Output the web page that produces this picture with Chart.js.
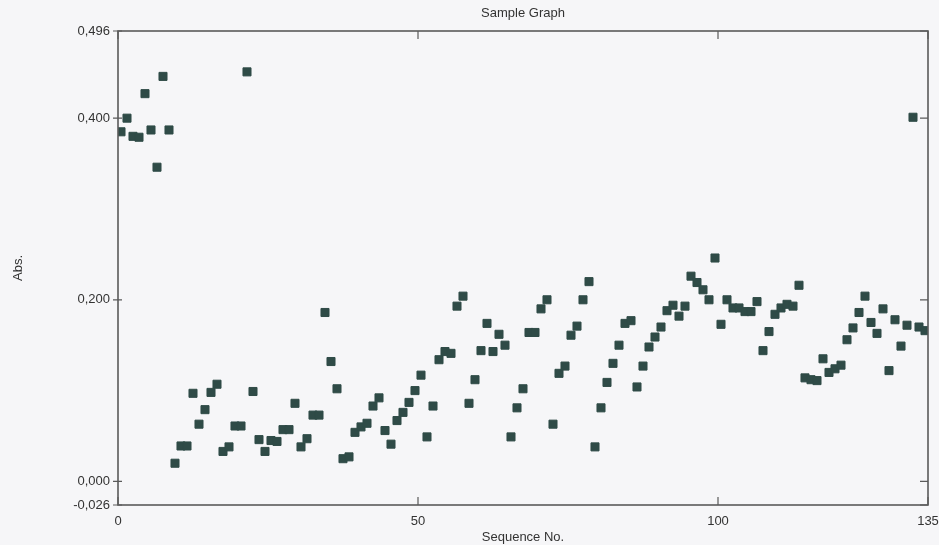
<!DOCTYPE html>
<html>
<head>
<meta charset="utf-8">
<title>Sample Graph</title>
<script src="https://cdn.jsdelivr.net/npm/chart.js@4.4.1/dist/chart.umd.min.js"></script>
<style>
  html, body { margin: 0; padding: 0; background: #f6f6f8; }
  #wrap { width: 939px; height: 545px; }
</style>
</head>
<body>
<div id="wrap"><canvas id="chart" width="939" height="545"></canvas></div>
<script>
// ── Data ──
// Abs. value for each sequence sample, in order (sample 0 .. 134)
const absValues = [
  0.385, 0.400, 0.380, 0.379, 0.427, 0.387, 0.346, 0.446, 0.387, 0.020,
  0.039, 0.039, 0.097, 0.063, 0.079, 0.098, 0.107, 0.033, 0.038, 0.061,
  0.061, 0.451, 0.099, 0.046, 0.033, 0.045, 0.044, 0.057, 0.057, 0.086,
  0.038, 0.047, 0.073, 0.073, 0.186, 0.132, 0.102, 0.025, 0.027, 0.054,
  0.060, 0.064, 0.083, 0.092, 0.056, 0.041, 0.067, 0.076, 0.087, 0.100,
  0.117, 0.049, 0.083, 0.134, 0.143, 0.141, 0.193, 0.204, 0.086, 0.112,
  0.144, 0.174, 0.143, 0.162, 0.150, 0.049, 0.081, 0.102, 0.164, 0.164,
  0.190, 0.200, 0.063, 0.119, 0.127, 0.161, 0.171, 0.200, 0.220, 0.038,
  0.081, 0.109, 0.130, 0.150, 0.174, 0.177, 0.104, 0.127, 0.148, 0.159,
  0.170, 0.188, 0.194, 0.182, 0.193, 0.226, 0.219, 0.211, 0.200, 0.246,
  0.173, 0.200, 0.191, 0.191, 0.187, 0.187, 0.198, 0.144, 0.165, 0.184,
  0.191, 0.195, 0.193, 0.216, 0.114, 0.112, 0.111, 0.135, 0.120, 0.124,
  0.128, 0.156, 0.169, 0.186, 0.204, 0.175, 0.163, 0.190, 0.122, 0.178,
  0.149, 0.172, 0.401, 0.170, 0.166
];

// tick values shown on the axes
const xTicks = [0, 50, 100, 135];
const yTicks = [-0.026, 0.000, 0.200, 0.400, 0.496];

const titleText = 'Sample Graph';
const xTitle = 'Sequence No.';
const yTitle = 'Abs.';

const FONT = '"Liberation Sans", Arial, sans-serif';
const MARK = '#2f4b47';
const FRAME = '#5a5a5a';

// each sample sits in the middle of its sequence slot
const points = absValues.map((v, i) => ({ x: i + 0.5, y: v }));

const fmtAbs = v => v.toFixed(3).replace('.', ',');

// frame, tick marks and the title drawn over the scales
const framePlugin = {
  id: 'frame',
  afterDraw(chart) {
    const { ctx, chartArea: a, scales } = chart;
    ctx.save();
    ctx.strokeStyle = FRAME;
    ctx.lineWidth = 1.6;
    ctx.strokeRect(a.left, a.top, a.right - a.left, a.bottom - a.top);

    ctx.lineWidth = 1.2;
    ctx.beginPath();
    yTicks.forEach(v => {
      const y = scales.y.getPixelForValue(v);
      ctx.moveTo(a.left - 5, y); ctx.lineTo(a.left + 4, y);
      ctx.moveTo(a.right - 8, y); ctx.lineTo(a.right, y);
    });
    xTicks.forEach(v => {
      const x = scales.x.getPixelForValue(v);
      ctx.moveTo(x, a.bottom); ctx.lineTo(x, a.bottom - 8);
      ctx.moveTo(x, a.top); ctx.lineTo(x, a.top + 8);
    });
    ctx.stroke();

    ctx.fillStyle = '#333';
    ctx.font = '13px ' + FONT;
    ctx.textAlign = 'center';
    ctx.textBaseline = 'middle';
    ctx.fillText(titleText, (a.left + a.right) / 2, 13);
    ctx.restore();
  }
};

new Chart(document.getElementById('chart'), {
  type: 'scatter',
  data: {
    datasets: [{
      label: yTitle,
      data: points,
      pointStyle: 'rect',
      pointRadius: 5.7,
      pointHoverRadius: 5.7,
      backgroundColor: MARK,
      borderColor: MARK,
      borderWidth: 1
    }]
  },
  options: {
    responsive: false,
    animation: false,
    layout: { autoPadding: false, padding: { top: 31, right: 11, left: 0, bottom: 0 } },
    plugins: {
      legend: { display: false },
      tooltip: { enabled: false }
    },
    scales: {
      x: {
        type: 'linear',
        min: 0,
        max: 135,
        afterBuildTicks: s => { s.ticks = xTicks.map(v => ({ value: v })); },
        afterFit: s => { s.height = 40; s.paddingRight = 0; s.paddingLeft = 0; },
        grid: { display: false, drawTicks: false },
        border: { display: false },
        ticks: {
          autoSkip: false,
          maxRotation: 0,
          padding: 9,
          color: '#333',
          font: { family: FONT, size: 13 },
          callback: v => String(v)
        },
        title: {
          display: true,
          text: xTitle,
          color: '#333',
          font: { family: FONT, size: 13 },
          padding: { top: 0, bottom: 0 }
        }
      },
      y: {
        type: 'linear',
        min: -0.026,
        max: 0.496,
        afterBuildTicks: s => { s.ticks = yTicks.map(v => ({ value: v })); },
        afterFit: s => { s.width = 118; },
        grid: { display: false, drawTicks: false },
        border: { display: false },
        ticks: {
          autoSkip: false,
          padding: 8,
          color: '#333',
          font: { family: FONT, size: 13 },
          callback: v => fmtAbs(v)
        },
        title: {
          display: true,
          text: yTitle,
          color: '#333',
          font: { family: FONT, size: 13 },
          padding: { top: 11, bottom: 0 }
        }
      }
    }
  },
  plugins: [framePlugin]
});
</script>
</body>
</html>
